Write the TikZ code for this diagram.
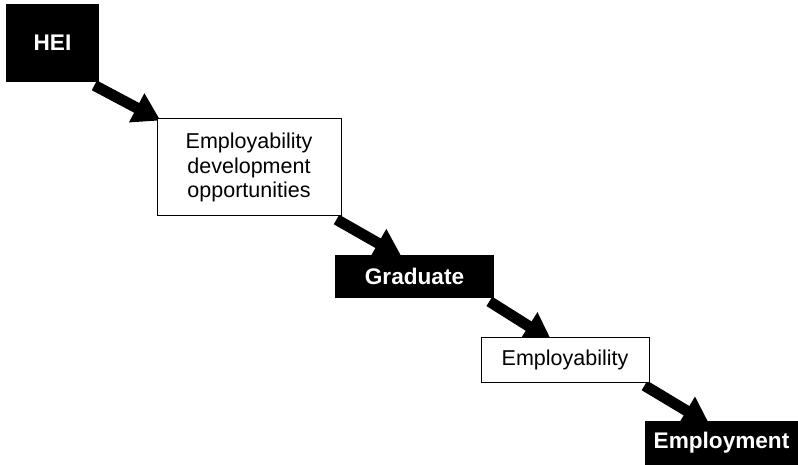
\documentclass[tikz,border=0pt]{standalone}
\usepackage{fontspec}
\setmainfont{Liberation Sans}
\usetikzlibrary{arrows.meta,backgrounds}

\tikzset{every picture/.style={line width=0.75pt}}
\tikzset{
  darkbox/.style={fill=black, text=white, inner sep=0pt, font=\bfseries\fontsize{22.6}{26}\selectfont},
  lightbox/.style={draw, fill=white, line width=1pt, inner sep=0pt, align=center, font=\fontsize{21.5}{24.5}\selectfont},
  bigarrow/.style={line width=11pt, -{Triangle[length=27pt,width=31pt]}}
}

\begin{document}
\begin{tikzpicture}[x=1pt,y=1pt,yscale=-1]
    \useasboundingbox (0,0) rectangle (798,465);

    % Boxes
    \node [darkbox, minimum width=93pt, minimum height=78pt] (hei) at (52.5,43) {HEI};
    \node [lightbox, minimum width=184pt, minimum height=97pt] (edo) at (249,167.5) {Employability\\development\\opportunities};
    \node [darkbox, minimum width=159pt, minimum height=43pt] (grad) at (414.5,276.5) {Graduate};
    \node [lightbox, minimum width=168pt, minimum height=45pt] (empb) at (565,359.5) {Employability};
    \node [darkbox, minimum width=153pt, minimum height=44pt] (empt) at (721.5,443) {Employment};

    % Arrows
    \begin{scope}[on background layer]
    \draw [bigarrow] ([xshift=-5pt,yshift=3pt]hei.south east) -- ([xshift=4pt,yshift=2pt]edo.north west);
    \draw [bigarrow] ([xshift=-5pt,yshift=3pt]edo.south east) -- ([xshift=67pt,yshift=2pt]grad.north west);
    \draw [bigarrow] ([xshift=-5pt,yshift=3pt]grad.south east) -- ([xshift=71pt,yshift=4pt]empb.north west);
    \draw [bigarrow] ([xshift=-5pt,yshift=3pt]empb.south east) -- ([xshift=65pt,yshift=4pt]empt.north west);
    \end{scope}

\end{tikzpicture}
\end{document}
